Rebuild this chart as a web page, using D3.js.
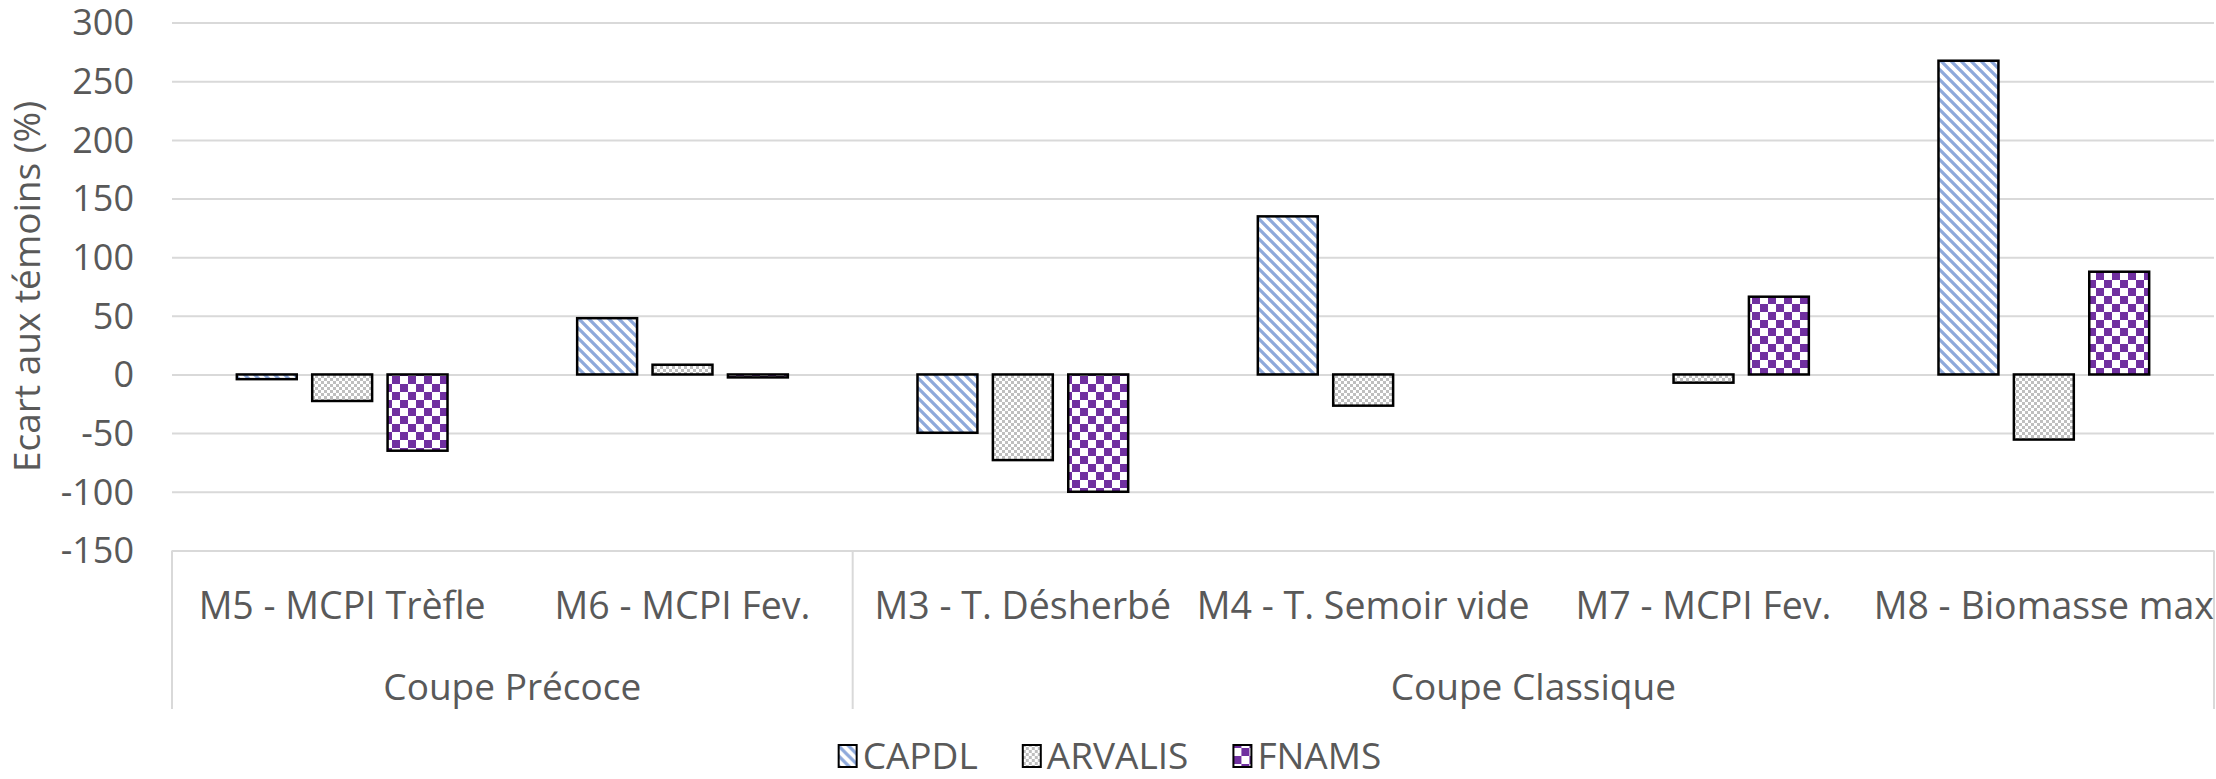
<!DOCTYPE html>
<html>
<head>
<meta charset="utf-8">
<script src="https://cdn.jsdelivr.net/npm/d3@7"></script>
<style>
    body { margin: 0; background: #fff; }
    text { font-family: "Open Sans", sans-serif; fill: #595959; }
</style>
</head>
<body>
<div id="chart"></div>
<script>
// Data
var categories = ["M5 - MCPI Trèfle", "M6 - MCPI Fev.", "M3 - T. Désherbé", "M4 - T. Semoir vide", "M7 - MCPI Fev.", "M8 - Biomasse max"];
var groupNames = ["Coupe Précoce", "Coupe Classique"];
var categoryGroup = [0, 0, 1, 1, 1, 1];
var seriesNames = ["CAPDL", "ARVALIS", "FNAMS"];
var capdl = [-4, 48, -49.7, 134.8, null, 267.5];
var arvalis = [-22.6, 8.3, -73, -26.6, -7, -55.5];
var fnams = [-65, -2.5, -100, null, 66.3, 87.6];
var yTicks = [-150, -100, -50, 0, 50, 100, 150, 200, 250, 300];

var width = 2216,
    height = 779,
    margin = { left: 172, right: 2, top: 22.6, bottom: 228.6 },
    fontSize = 36;

var chartWidth = width - margin.left - margin.right;
var chartHeight = height - margin.top - margin.bottom;

var svg = d3.select('#chart').append('svg')
    .attr('width', width)
    .attr('height', height)
    .attr('viewBox', `0 0 ${width} ${height}`);

// Fill patterns
var defs = svg.append('defs');

var stripe = defs.append('pattern')
    .attr('id', 'pat-CAPDL')
    .attr('patternUnits', 'userSpaceOnUse')
    .attr('width', 10).attr('height', 10);
stripe.append('rect').attr('width', 10).attr('height', 10).attr('fill', '#fff');
stripe.append('path')
    .attr('d', 'M0,0L10,10M-5,5L5,15M5,-5L15,5')
    .attr('stroke', '#8EA9DB')
    .attr('stroke-width', 3.3);

var fine = defs.append('pattern')
    .attr('id', 'pat-ARVALIS')
    .attr('patternUnits', 'userSpaceOnUse')
    .attr('width', 6).attr('height', 6);
fine.append('rect').attr('width', 6).attr('height', 6).attr('fill', '#fff');
fine.append('rect').attr('width', 3).attr('height', 3).attr('fill', '#BFBFBF');
fine.append('rect').attr('x', 3).attr('y', 3).attr('width', 3).attr('height', 3).attr('fill', '#BFBFBF');

var check = defs.append('pattern')
    .attr('id', 'pat-FNAMS')
    .attr('patternUnits', 'userSpaceOnUse')
    .attr('width', 16).attr('height', 16);
check.append('rect').attr('width', 16).attr('height', 16).attr('fill', '#fff');
check.append('rect').attr('width', 8).attr('height', 8).attr('fill', '#7030A0');
check.append('rect').attr('x', 8).attr('y', 8).attr('width', 8).attr('height', 8).attr('fill', '#7030A0');

// Scales
var x0 = d3.scaleBand()
    .domain(categories)
    .range([margin.left, margin.left + chartWidth])
    .padding(0);

var x1 = d3.scaleBand()
    .domain(seriesNames)
    .range([0, x0.bandwidth()])
    .paddingInner(0.205)
    .paddingOuter(0.86);

var yScale = d3.scaleLinear()
    .domain([-150, 300])
    .range([margin.top + chartHeight, margin.top]);

// Y axis with gridlines (plain hyphen for negatives, as in the original)
var yAxis = d3.axisLeft(yScale)
    .tickValues(yTicks)
    .tickSize(-chartWidth)
    .tickPadding(38)
    .tickFormat((d) => String(d));

var yG = svg.append('g')
    .attr('transform', 'translate(' + margin.left + ',0)')
    .call(yAxis);
yG.select('.domain').remove();
yG.selectAll('line').attr('stroke', '#D9D9D9').attr('stroke-width', 2);
yG.selectAll('text')
    .style('font-family', '"Open Sans", sans-serif')
    .style('font-size', fontSize + 'px')
    .attr('dy', '0.34em')
    .attr('fill', '#595959');

// Y axis title
svg.append('text')
    .attr('transform', 'translate(' + 40 + ',' + (margin.top + chartHeight / 2) + ') rotate(-90)')
    .attr('text-anchor', 'middle')
    .style('font-size', '37px')
    .text('Ecart aux témoins (%)');

// Bars
var seriesData = [capdl, arvalis, fnams];
var bars = [];
seriesData.forEach(function(vals, s) {
    vals.forEach(function(v, i) {
        if (v === null) return;
        bars.push({ series: seriesNames[s], category: categories[i], value: v });
    });
});

svg.append('g').attr('class', 'bars')
    .selectAll('rect')
    .data(bars)
    .enter().append('rect')
    .attr('x', (d) => x0(d.category) + x1(d.series))
    .attr('width', x1.bandwidth())
    .attr('y', (d) => yScale(Math.max(0, d.value)))
    .attr('height', (d) => Math.abs(yScale(d.value) - yScale(0)))
    .attr('fill', (d) => 'url(#pat-' + d.series + ')')
    .attr('stroke', '#000')
    .attr('stroke-width', 2.5);

// Category table below the plot
var tableTop = yScale(-150),
    tableBottom = 709;

var groupEdges = [margin.left];
categoryGroup.forEach(function(g, i) {
    if (i === categoryGroup.length - 1 || categoryGroup[i + 1] !== g) {
        groupEdges.push(x0(categories[i]) + x0.bandwidth());
    }
});

svg.append('g').selectAll('line')
    .data(groupEdges)
    .enter().append('line')
    .attr('x1', (d) => d).attr('x2', (d) => d)
    .attr('y1', tableTop).attr('y2', tableBottom)
    .attr('stroke', '#D9D9D9')
    .attr('stroke-width', 2);

svg.append('g').selectAll('text')
    .data(categories)
    .enter().append('text')
    .attr('x', (d) => x0(d) + x0.bandwidth() / 2)
    .attr('y', 606)
    .attr('dy', '0.35em')
    .attr('text-anchor', 'middle')
    .style('font-size', '37.5px')
    .text((d) => d);

svg.append('g').selectAll('text')
    .data(groupNames)
    .enter().append('text')
    .attr('x', (d, i) => (groupEdges[i] + groupEdges[i + 1]) / 2)
    .attr('y', 687)
    .attr('dy', '0.35em')
    .attr('text-anchor', 'middle')
    .style('font-size', '37px')
    .text((d) => d);

// Legend
var legend = svg.append('g').attr('class', 'legend');
var lx = 0, itemGap = 45;
seriesNames.forEach(function(name, i) {
    var item = legend.append('g').attr('transform', 'translate(' + lx + ',0)');
    item.append('rect')
        .attr('x', 0).attr('y', -11)
        .attr('width', 18).attr('height', 22)
        .attr('fill', 'url(#pat-' + name + ')')
        .attr('stroke', '#000')
        .attr('stroke-width', 2);
    var t = item.append('text')
        .attr('x', 24)
        .attr('dy', '0.35em')
        .style('font-size', '37px')
        .text(name);
    lx += 24 + t.node().getComputedTextLength() + itemGap;
});
lx -= itemGap;
legend.attr('transform', 'translate(' + (1110 - lx / 2) + ',' + 756 + ')');
</script>
</body>
</html>
